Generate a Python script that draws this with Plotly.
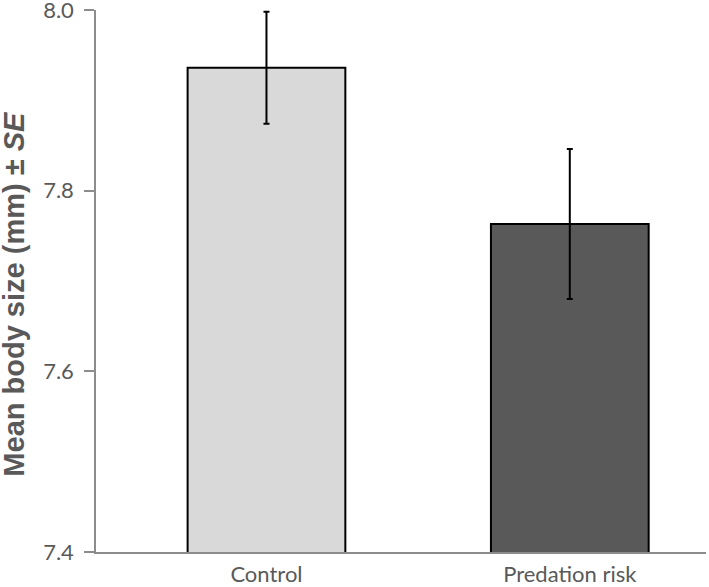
import plotly.graph_objects as go

categories = ["Control", "Predation risk"]
means = [7.936, 7.763]
se = [0.062, 0.083]
bar_colors = ["#d9d9d9", "#595959"]
y_ticks = [7.4, 7.6, 7.8, 8.0]
y_title = "<b>Mean body size (mm) ± <i>SE</i></b>"

fig = go.Figure()
fig.add_trace(go.Bar(
    x=categories,
    y=means,
    width=0.52,
    marker=dict(color=bar_colors, line=dict(color="#000000", width=2)),
    error_y=dict(type="data", array=se, visible=True, color="#000000", thickness=2, width=3),
))

fig.update_layout(
    width=709, height=587,
    margin=dict(l=96, r=3, t=10, b=35),
    plot_bgcolor="white", paper_bgcolor="white",
    showlegend=False,
    xaxis=dict(
        range=[-0.562, 1.449],
        automargin=False,
        showline=True, linecolor="#8c8c8c", linewidth=1.5,
        ticks="", showgrid=False, zeroline=False,
        ticklabelstandoff=2,
        tickfont=dict(family="Lato", size=22, color="#595959"),
        ticklabeloverflow="allow",
    ),
    yaxis=dict(
        range=[7.4, 8.0],
        automargin=False,
        tickvals=y_ticks,
        ticktext=[f"{v:.1f}" for v in y_ticks],
        showline=True, linecolor="#8c8c8c", linewidth=1.5,
        ticks="outside", ticklen=10, tickwidth=1.5, tickcolor="#8c8c8c",
        showgrid=False, zeroline=False,
        ticklabelstandoff=6,
        ticklabeloverflow="allow",
        tickfont=dict(family="Lato", size=22, color="#595959"),
    ),
    annotations=[dict(
        text=y_title, textangle=-90,
        xref="paper", yref="paper",
        x=-0.135, y=0.476, xanchor="center", yanchor="middle",
        showarrow=False,
        font=dict(family="Liberation Sans", size=29, color="#595959"),
    )],
)

fig.write_html("out.html", config={"displayModeBar": False},
               post_script="document.body.style.margin='0';")
